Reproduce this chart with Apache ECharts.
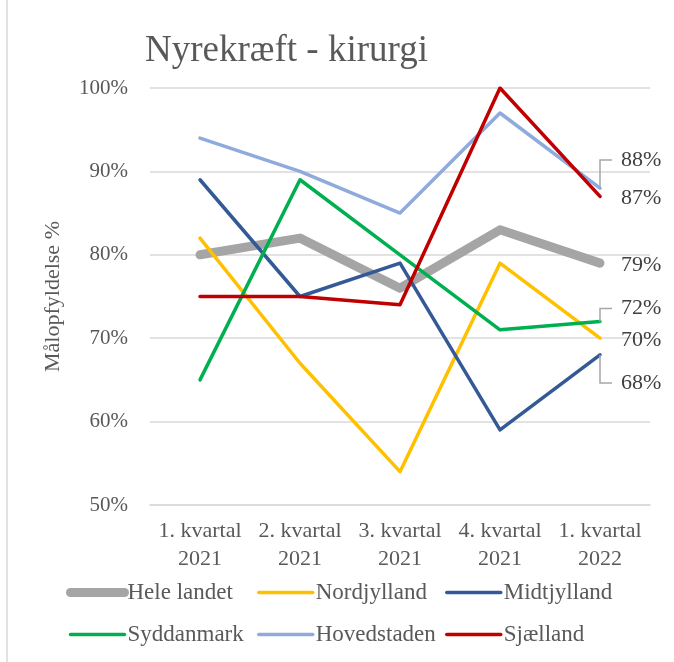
<!DOCTYPE html>
<html>
<head>
<meta charset="utf-8">
<script src="https://cdn.jsdelivr.net/npm/echarts@6/dist/echarts.min.js"></script>
<style>
  html, body { margin: 0; padding: 0; background: #fff; }
  #chart { width: 674px; height: 662px; }
</style>
</head>
<body>
<div id="chart"></div>
<script>
var categories = ['1. kvartal\n2021', '2. kvartal\n2021', '3. kvartal\n2021', '4. kvartal\n2021', '1. kvartal\n2022']
var heleLandet = [80, 82, 76, 83, 79]
var nordjylland = [82, 67, 54, 79, 70]
var midtjylland = [89, 75, 79, 59, 68]
var syddanmark = [65, 89, 80, 71, 72]
var hovedstaden = [94, 90, 85, 97, 88]
var sjaelland = [75, 75, 74, 100, 87]

var font = 'Liberation Serif'
var textColor = '#595959'

// only the last point gets a label
function withEndLabel(values) {
  var last = values.length - 1
  return values.map(function (v, i) {
    if (i !== last) return v
    return {
      value: v,
      label: {
        show: true,
        position: 'right',
        distance: 21,
        formatter: '{c}%',
        color: '#404040',
        fontFamily: font,
        fontSize: 22
      }
    }
  })
}

// label shift (px) for the end labels that would clash
var labelShift = [0, 0, 28, -13, -28, 0]

function makeSeries(idx, name, values, color, width, z) {
  return {
    name: name,
    type: 'line',
    data: withEndLabel(values),
    symbol: 'circle',
    symbolSize: 0,
    z: z,
    lineStyle: { color: color, width: width, cap: 'round', join: 'round' },
    itemStyle: { color: color },
    labelLayout: { dy: labelShift[idx] || 2 }
  }
}

var chart = echarts.init(document.getElementById('chart'))
var legendBase = {
  orient: 'vertical',
  top: 581,
  padding: 0,
  itemWidth: 54,
  itemHeight: 14,
  itemGap: 19,
  itemStyle: { opacity: 0 },
  lineStyle: { width: 'inherit', cap: 'round' },
  textStyle: { fontFamily: font, fontSize: 23, color: textColor, padding: [0, 0, 0, -2] }
}
var border = {
  type: 'line',
  shape: { x1: 7, y1: 0, x2: 7, y2: 662 },
  style: { stroke: '#d9d9d9', lineWidth: 1.5 }
}
var seriesData = [heleLandet, nordjylland, midtjylland, syddanmark, hovedstaden, sjaelland]
var option = {
  backgroundColor: '#fff',
  animation: false,
  title: {
    text: 'Nyrekræft - kirurgi',
    left: 140,
    top: 28,
    textStyle: { fontFamily: font, fontSize: 37, fontWeight: 'normal', color: textColor }
  },
  graphic: [border],
  legend: [
    Object.assign({ left: 66, data: ['Hele landet', 'Syddanmark'] }, legendBase),
    Object.assign({ left: 257, data: ['Nordjylland', 'Hovedstaden'] }, legendBase),
    Object.assign({ left: 445, data: ['Midtjylland', 'Sjælland'] }, legendBase)
  ],
  grid: { left: 150, right: 24, top: 88, bottom: 157 },
  xAxis: {
    type: 'category',
    data: categories,
    axisLine: { show: true, lineStyle: { color: '#d9d9d9', width: 1.5 } },
    axisTick: { show: false },
    axisLabel: { fontFamily: font, fontSize: 22, color: textColor, lineHeight: 28, margin: 12, interval: 0 }
  },
  yAxis: {
    type: 'value',
    min: 50,
    max: 100,
    interval: 10,
    name: 'Målopfyldelse %',
    nameLocation: 'middle',
    nameRotate: 90,
    nameGap: 86,
    nameTextStyle: { fontFamily: font, fontSize: 22, color: textColor },
    axisLine: { show: false },
    axisTick: { show: false },
    splitLine: { lineStyle: { color: '#d9d9d9', width: 1.5 } },
    axisLabel: { formatter: '{value}%', fontFamily: font, fontSize: 21, color: textColor, margin: 22 }
  },
  series: [
    makeSeries(0, 'Hele landet', heleLandet, '#a5a5a5', 9, 2),
    makeSeries(1, 'Nordjylland', nordjylland, '#ffc000', 3.5, 3),
    makeSeries(2, 'Midtjylland', midtjylland, '#335a96', 3.5, 4),
    makeSeries(3, 'Syddanmark', syddanmark, '#00b050', 3.5, 5),
    makeSeries(4, 'Hovedstaden', hovedstaden, '#8faadc', 3.5, 6),
    makeSeries(5, 'Sjælland', sjaelland, '#c00000', 3.5, 7)
  ]
}
chart.setOption(option)

// elbow leaders for the shifted labels, anchored on the library's own point positions
var leaders = [border]
seriesData.forEach(function (values, i) {
  if (!labelShift[i]) return
  var last = values.length - 1
  var p = chart.convertToPixel({ seriesIndex: i }, [last, values[last]])
  var ly = p[1] + labelShift[i]
  leaders.push({
    type: 'polyline',
    z: 10,
    shape: { points: [[p[0], p[1]], [p[0], ly], [p[0] + 12, ly]] },
    style: { stroke: '#a6a6a6', lineWidth: 1.5, fill: null }
  })
})
chart.setOption({ graphic: leaders })
</script>
</body>
</html>
